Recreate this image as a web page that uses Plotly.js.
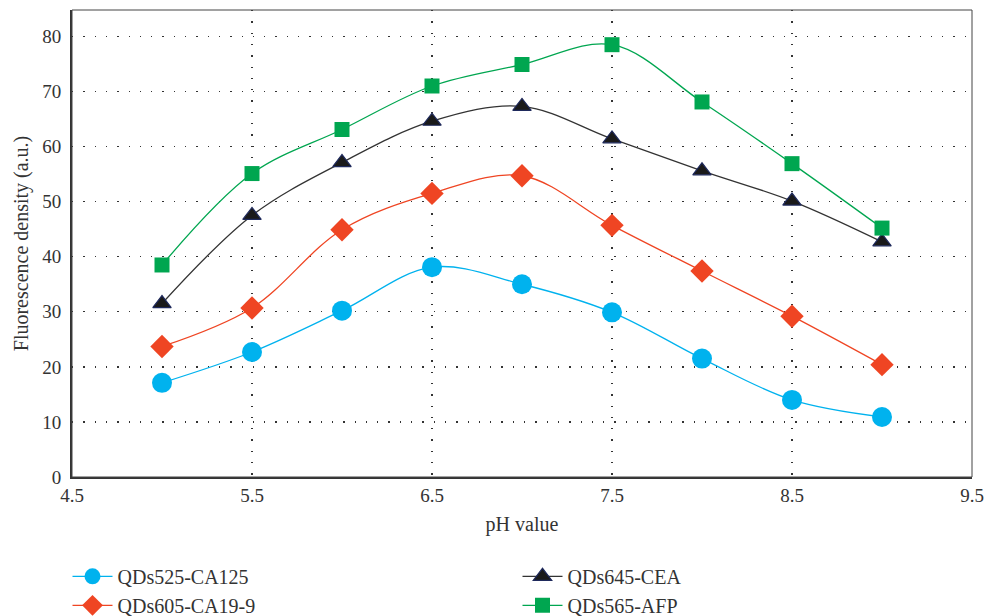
<!DOCTYPE html>
<html>
<head>
<meta charset="utf-8">
<script src="https://cdn.plot.ly/plotly-3.0.1.min.js"></script>
<style>html,body{margin:0;padding:0;background:#fff;}#chart{width:989px;height:616px;}</style>
</head>
<body>
<div id="chart"></div>
<script>
const phValues = [5.0, 5.5, 6.0, 6.5, 7.0, 7.5, 8.0, 8.5, 9.0];
const ca125 = [17.1, 22.7, 30.2, 38.1, 35.0, 29.9, 21.5, 14.0, 10.9];
const ca199 = [23.7, 30.7, 44.9, 51.5, 54.7, 45.7, 37.4, 29.2, 20.4];
const cea   = [31.5, 47.5, 57.1, 64.6, 67.3, 61.4, 55.6, 50.1, 42.7];
const afp   = [38.5, 55.1, 63.1, 71.0, 74.9, 78.5, 68.1, 56.9, 45.2];
const seriesNames = ["QDs525-CA125", "QDs645-CEA", "QDs605-CA19-9", "QDs565-AFP"];
const xTicks = [4.5, 5.5, 6.5, 7.5, 8.5, 9.5];
const yTicks = [0, 10, 20, 30, 40, 50, 60, 70, 80];

function tr(name, y, color, symbol, size, mline) {
  return {
    x: phValues, y: y, name: name, type: 'scatter', mode: 'lines+markers',
    line: {color: color, width: 1.3, shape: 'spline', smoothing: 1},
    marker: {color: mline ? '#1a1a1a' : color, symbol: symbol, size: size,
             line: {color: mline || color, width: mline ? 1.2 : 0}}
  };
}
const data = [
  tr(seriesNames[0], ca125, '#00b2ee', 'circle', 20, null),
  tr(seriesNames[1], cea, '#333333', 'triangle-up', 16, '#1f2a5c'),
  tr(seriesNames[2], ca199, '#ef4523', 'diamond', 18, null),
  tr(seriesNames[3], afp, '#00a650', 'square', 15, null)
];

const fontFam = "'Liberation Serif', 'Times New Roman', serif";
const layout = {
  width: 989, height: 616,
  margin: {l: 72, r: 17, t: 10, b: 139, autoexpand: false},
  paper_bgcolor: '#fff', plot_bgcolor: '#fff',
  font: {family: fontFam, color: '#333', size: 19},
  showlegend: true,
  legend: {orientation: 'h', x: -0.005, xanchor: 'left', y: -0.171, yanchor: 'top',
           entrywidth: 395, entrywidthmode: 'pixels', font: {size: 20, family: fontFam, color: '#333'},
           itemwidth: 40, tracegroupgap: 0},
  xaxis: {
    range: [4.5, 9.5], tickvals: xTicks, ticktext: xTicks.map(v => v.toFixed(1)),
    showgrid: true, gridcolor: '#333', griddash: '1.3px,10px', gridwidth: 1.3,
    showline: true, linecolor: '#333', linewidth: 2, ticks: '', zeroline: false,
    tickfont: {size: 19, family: fontFam, color: '#333'},
    title: {text: 'pH value', font: {size: 20, family: fontFam, color: '#333'}, standoff: 12}
  },
  yaxis: {
    range: [0, 84.8], tickvals: yTicks,
    showgrid: true, gridcolor: '#333', griddash: '1.3px,10px', gridwidth: 1.3,
    showline: true, linecolor: '#333', linewidth: 2, ticks: '', zeroline: false,
    ticklabelstandoff: 5,
    tickfont: {size: 19, family: fontFam, color: '#333'},
    title: {text: 'Fluorescence density (a.u.)', font: {size: 20, family: fontFam, color: '#333'}, standoff: 8}
  },
  shapes: [{type: 'rect', xref: 'paper', yref: 'paper', x0: 0, x1: 1, y0: 0, y1: 1,
            line: {color: '#444', width: 1}, fillcolor: 'rgba(0,0,0,0)', layer: 'above'}]
};
Plotly.newPlot('chart', data, layout, {displayModeBar: false, staticPlot: true});
</script>
</body>
</html>
